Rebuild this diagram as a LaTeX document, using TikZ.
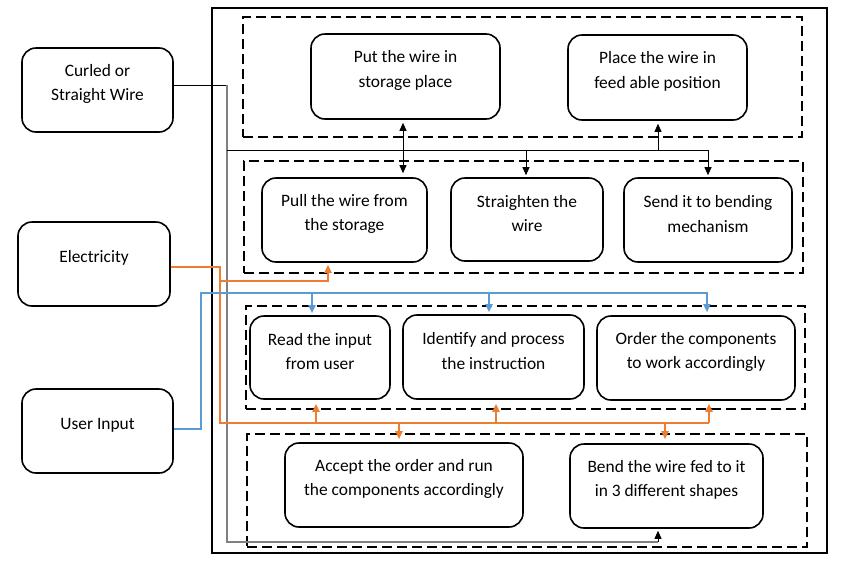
\documentclass[tikz,border=0pt]{standalone}
\usepackage{fontspec}
\setmainfont{Carlito}
\usetikzlibrary{arrows.meta}
\definecolor{pwr}{HTML}{ED7D31}
\definecolor{inp}{HTML}{5B9BD5}
\definecolor{wgray}{HTML}{808080}
\begin{document}
\begin{tikzpicture}[x=1pt,y=-1pt,
  >={Triangle[length=8pt,width=7pt]},
  box/.style={draw, line width=1.6pt, rounded corners=14pt, inner sep=0pt},
  grp/.style={draw, line width=1.8pt, dash pattern=on 10pt off 5pt, inner sep=0pt},
  frame/.style={draw, line width=1.8pt, inner sep=0pt},
  txt/.style={align=center, font=\fontsize{17.4}{24.5}\selectfont, inner sep=0pt},
  wire/.style={draw, line width=0.9pt, black},
  wgrey/.style={draw, line width=1.2pt, wgray},
  pw/.style={draw, line width=1.8pt, pwr},
  ip/.style={draw, line width=1.8pt, inp}]
\useasboundingbox (0,0) rectangle (848,563);

% frame and groups
\node[frame, minimum width=615pt, minimum height=545pt] (outer) at (519.5,280.5) {};
\node[grp, minimum width=559pt, minimum height=120pt] (g1) at (522.5,77) {};
\node[grp, minimum width=559pt, minimum height=112pt] (g2) at (523.5,217) {};
\node[grp, minimum width=559pt, minimum height=103pt] (g3) at (525.5,357.5) {};
\node[grp, minimum width=560pt, minimum height=113pt] (g4) at (527,490.5) {};

% boxes
\node[box, minimum width=151pt, minimum height=84pt] (curled) at (97.5,90) {};
\node[box, minimum width=152pt, minimum height=84pt] (elec) at (94,264) {};
\node[box, minimum width=151pt, minimum height=84pt] (user) at (97.5,431) {};
\node[box, minimum width=189pt, minimum height=85pt] (put) at (405.5,76.5) {};
\node[box, minimum width=179pt, minimum height=85pt] (place) at (657.5,77.5) {};
\node[box, minimum width=165pt, minimum height=84pt] (pull) at (344.5,220) {};
\node[box, minimum width=152pt, minimum height=83pt] (straight) at (527,219.5) {};
\node[box, minimum width=168pt, minimum height=84pt] (send) at (708,220) {};
\node[box, minimum width=140pt, minimum height=83pt] (read) at (320,357.5) {};
\node[box, minimum width=181pt, minimum height=84pt] (ident) at (493.5,357) {};
\node[box, minimum width=198pt, minimum height=84pt] (order) at (696,358) {};
\node[box, minimum width=238pt, minimum height=84pt] (accept) at (404,485) {};
\node[box, minimum width=193pt, minimum height=84pt] (bend) at (666.5,486) {};

% texts
\node[txt] (curledT) at ([yshift=6pt]curled.center) {Curled or\\Straight Wire};
\node[txt] (elecT) at ([yshift=6pt]elec.center) {Electricity};
\node[txt] (userT) at ([yshift=6pt]user.center) {User Input};
\node[txt] (putT) at ([yshift=6pt]put.center) {Put the wire in\\storage place};
\node[txt] (placeT) at ([yshift=6pt]place.center) {Place the wire in\\feed able position};
\node[txt] (pullT) at ([yshift=6pt]pull.center) {Pull the wire from\\the storage};
\node[txt] (straightT) at ([yshift=6pt]straight.center) {Straighten the\\wire};
\node[txt] (sendT) at ([yshift=6pt]send.center) {Send it to bending\\mechanism};
\node[txt] (readT) at ([yshift=6pt]read.center) {Read the input\\from user};
\node[txt] (identT) at ([yshift=6pt]ident.center) {Identify and process\\the instruction};
\node[txt] (orderT) at ([yshift=6pt]order.center) {Order the components\\to work accordingly};
\node[txt] (acceptT) at ([yshift=6pt]accept.center) {Accept the order and run\\the components accordingly};
\node[txt] (bendT) at ([yshift=6pt]bend.center) {Bend the wire fed to it\\in 3 different shapes};

% wire path (black / grey)
\coordinate (wA) at (227,85);
\coordinate (wB) at (227,542);
\coordinate (wC) at (658,542);
\coordinate (tL) at (227,150);
\coordinate (tR) at (708,150);
\coordinate (tS) at (526,150);
\coordinate (tP) at (658,150);
\coordinate (dX) at (403,150);
\draw[wire] (curled.east |- wA) -- (wA);
\draw[wgrey] (wA) -- (wB) -- (wC);
\draw[wire,->,shorten >=2pt] (wC) -- (bend.south -| wC);
\draw[wire] (tL) -- (tR);
\draw[wire,->,shorten >=2pt] (tR) -- (send.north -| tR);
\draw[wire,->,shorten >=2pt] (tS) -- (straight.north -| tS);
\draw[wire,->,shorten >=3pt] (tP) -- (place.south -| tP);
\draw[wire,<->,shorten >=4pt,shorten <=3pt] (put.south -| dX) -- (pull.north -| dX);

% power (orange)
\coordinate (o1) at (220,267);
\coordinate (o2) at (220,281);
\coordinate (o3) at (328,281);
\coordinate (o4) at (220,423);
\coordinate (o5) at (709,423);
\coordinate (oR) at (316,423);
\coordinate (oI) at (496,423);
\coordinate (oA) at (399,423);
\coordinate (oB) at (665,423);
\draw[pw] (elec.east |- o1) -- (o1) -- (o4) -- (o5);
\draw[pw,->,shorten >=3pt] (o5) -- (order.south -| o5);
\draw[pw,->,shorten >=2pt] (o2) -- (o3) -- (pull.south -| o3);
\draw[pw,->,shorten >=4pt] (oR) -- (read.south -| oR);
\draw[pw,->,shorten >=4pt] (oI) -- (ident.south -| oI);
\draw[pw,->,shorten >=3pt] (oA) -- (accept.north -| oA);
\draw[pw,->,shorten >=4pt] (oB) -- (bend.north -| oB);

% user input (blue)
\coordinate (b1) at (201,429);
\coordinate (b2) at (201,293);
\coordinate (b3) at (707,293);
\coordinate (bR) at (312,293);
\coordinate (bI) at (489,293);
\draw[ip,->,shorten >=3pt] (user.east |- b1) -- (b1) -- (b2) -- (b3) -- (order.north -| b3);
\draw[ip,->,shorten >=2pt] (bR) -- (read.north -| bR);
\draw[ip,->,shorten >=2pt] (bI) -- (ident.north -| bI);
\end{tikzpicture}
\end{document}
